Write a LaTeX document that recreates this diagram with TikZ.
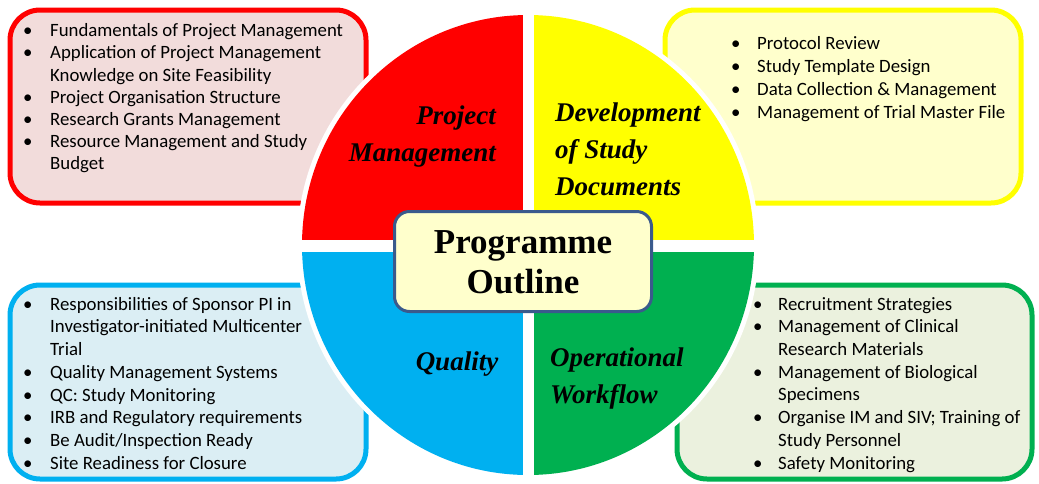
\documentclass[tikz,border=0pt]{standalone}
\usepackage{fontspec}
\setmainfont{Carlito}
\newfontfamily\titlefont{Liberation Serif}
\newcommand\bitem[2]{\makebox[#1][l]{\textbullet}#2}
\newcommand\bcont[2]{\hspace*{#1}#2}
\definecolor{pmred}{HTML}{FF0000}
\definecolor{pmredfill}{HTML}{F2DCDB}
\definecolor{dsyel}{HTML}{FFFF00}
\definecolor{dsyelfill}{HTML}{FFFFCC}
\definecolor{qblue}{HTML}{00B0F0}
\definecolor{qbluefill}{HTML}{DBEEF4}
\definecolor{owgreen}{HTML}{00B050}
\definecolor{owgreenfill}{HTML}{EBF1DE}
\definecolor{cframe}{HTML}{3A5A8C}
\definecolor{cfill}{HTML}{FFFFCC}
\tikzset{
  sidebox/.style={line width=5pt, rounded corners=30pt},
  listtext/.style={anchor=north west, inner sep=0pt, align=left, font=\fontsize{18.8}{22.7}\selectfont, text=black},
  scripttext/.style={inner sep=0pt, font=\titlefont\fontsize{27}{37}\selectfont\bfseries\itshape, text=black},
}
\begin{document}
\begin{tikzpicture}[x=1pt,y=-1pt]
\useasboundingbox[fill=white] (0,0) rectangle (1039,483);
% side boxes
\draw[sidebox, draw=pmred, fill=pmredfill] (10,10) rectangle (366,203);
\draw[sidebox, draw=dsyel, fill=dsyelfill] (665,10) rectangle (1021,203);
\draw[sidebox, draw=qblue, fill=qbluefill] (10,285) rectangle (366,479);
\draw[sidebox, draw=owgreen, fill=owgreenfill] (677,285) rectangle (1032,479);
% lists
\node[listtext, font=\fontsize{18.8}{22.2}\selectfont] (pmlist) at (23,23.5) {%
\bitem{27pt}{Fundamentals of Project Management}\\
\bitem{27pt}{Application of Project Management}\\
\bcont{27pt}{Knowledge on Site Feasibility}\\
\bitem{27pt}{Project Organisation Structure}\\
\bitem{27pt}{Research Grants Management}\\
\bitem{27pt}{Resource Management and Study}\\
\bcont{27pt}{Budget}};
\node[listtext, font=\fontsize{18.8}{23}\selectfont] (dslist) at (731,36.5) {%
\bitem{26pt}{Protocol Review}\\
\bitem{26pt}{Study Template Design}\\
\bitem{26pt}{Data Collection \& Management}\\
\bitem{26pt}{Management of Trial Master File}};
\node[listtext] (qlist) at (23,297) {%
\bitem{27pt}{Responsibilities of Sponsor PI in}\\
\bcont{27pt}{Investigator-initiated Multicenter}\\
\bcont{27pt}{Trial}\\
\bitem{27pt}{Quality Management Systems}\\
\bitem{27pt}{QC: Study Monitoring}\\
\bitem{27pt}{IRB and Regulatory requirements}\\
\bitem{27pt}{Be Audit/Inspection Ready}\\
\bitem{27pt}{Site Readiness for Closure}};
\node[listtext] (owlist) at (753,297) {%
\bitem{25pt}{Recruitment Strategies}\\
\bitem{25pt}{Management of Clinical}\\
\bcont{25pt}{Research Materials}\\
\bitem{25pt}{Management of Biological}\\
\bcont{25pt}{Specimens}\\
\bitem{25pt}{Organise IM and SIV; Training of}\\
\bcont{25pt}{Study Personnel}\\
\bitem{25pt}{Safety Monitoring}};
% circle
\fill[white] (528,245) ellipse[x radius=231, y radius=235];
\begin{scope}
  \clip (528,245) rectangle (290,0);
  \fill[pmred] (528,245) ellipse[x radius=226, y radius=230];
\end{scope}
\begin{scope}
  \clip (528,245) rectangle (770,0);
  \fill[dsyel] (528,245) ellipse[x radius=226, y radius=230];
\end{scope}
\begin{scope}
  \clip (528,245) rectangle (290,483);
  \fill[qblue] (528,245) ellipse[x radius=226, y radius=230];
\end{scope}
\begin{scope}
  \clip (528,245) rectangle (770,483);
  \fill[owgreen] (528,245) ellipse[x radius=226, y radius=230];
\end{scope}
\fill[white] (523,10) rectangle (534,480);
\fill[white] (296,239.5) rectangle (760,251.5);
% quadrant labels
\node[scripttext, anchor=east, align=right] (pm) at (496,137) {Project\\Management};
\node[scripttext, anchor=west, align=left] (ds) at (555,149) {Development\\of Study\\Documents};
\node[scripttext] (q) at (457,364) {Quality};
\node[scripttext, anchor=west, align=left] (ow) at (550,378) {Operational\\Workflow};
% centre box
\draw[line width=3pt, draw=cframe, fill=cfill, rounded corners=15pt] (394.5,211.5) rectangle (651.5,311.5);
\node[inner sep=0pt, align=center, font=\fontsize{35}{40}\selectfont\titlefont\bfseries] (po) at (523,262) {Programme\\Outline};
\end{tikzpicture}
\end{document}
